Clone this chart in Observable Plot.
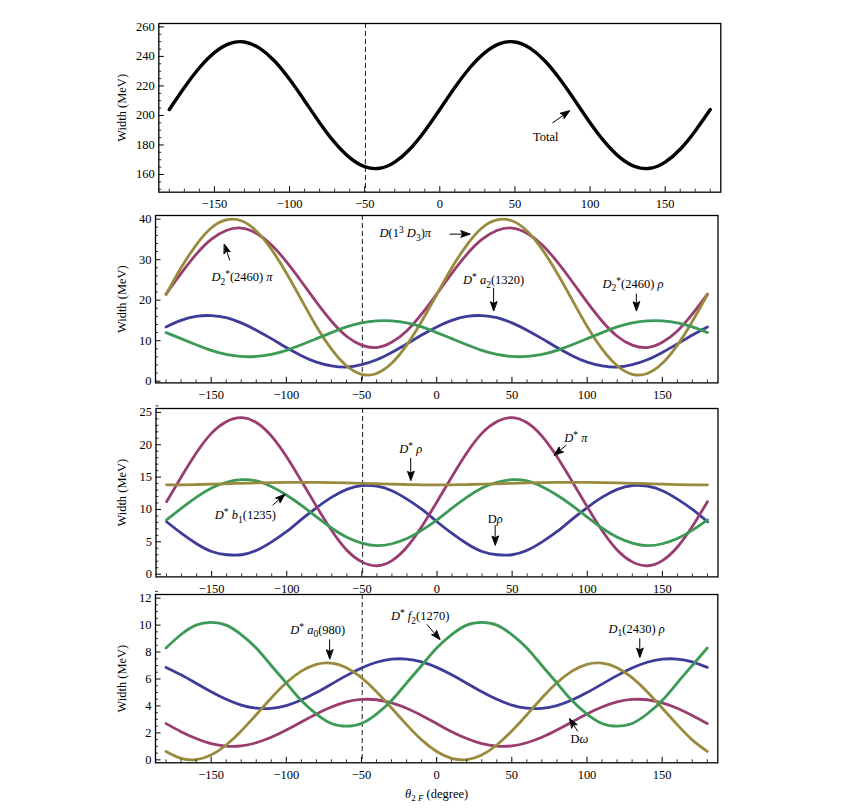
<!DOCTYPE html>
<html>
<head>
<meta charset="utf-8">
<script src="https://cdn.jsdelivr.net/npm/d3@7"></script>
<script src="https://cdn.jsdelivr.net/npm/@observablehq/plot@0.6"></script>
<style>
html, body { margin: 0; padding: 0; background: #fff; }
#chart { position: relative; width: 857px; height: 811px; overflow: hidden; }
#chart svg { position: absolute; left: 0; }
</style>
</head>
<body>
<div id="chart"></div>
<script>
// ---------- data ----------
const theta = [-180,-170,-160,-150,-140,-130,-120,-110,-100,-90,-80,-70,-60,-50,-40,-30,-20,-10,0,
  10,20,30,40,50,60,70,80,90,100,110,120,130,140,150,160,170,180];

const dashTheta = [-49.5];

// Panel 1
const totalWidth = [204.0,218.9,232.3,242.6,248.7,249.8,245.6,236.9,224.5,210.0,195.1,181.7,171.4,165.3,164.2,168.4,177.1,189.5,204.0,
  218.9,232.3,242.6,248.7,249.8,245.6,236.9,224.5,210.0,195.1,181.7,171.4,165.3,164.2,168.4,177.1,189.5,204.0];

// Panel 2
const p2D13D3pi = [21.4,28.0,33.6,37.8,39.8,39.6,37.1,32.6,26.7,20.1,13.5,7.9,3.8,1.7,1.9,4.4,8.9,14.8,21.4,
  28.0,33.6,37.8,39.8,39.6,37.1,32.6,26.7,20.1,13.5,7.9,3.8,1.7,1.9,4.4,8.9,14.8,21.4];
const p2D2pi = [21.5,26.6,31.3,35.0,37.2,37.8,36.5,33.7,29.5,24.6,19.5,14.8,11.1,8.9,8.3,9.6,12.4,16.6,21.5,
  26.6,31.3,35.0,37.2,37.8,36.5,33.7,29.5,24.6,19.5,14.8,11.1,8.9,8.3,9.6,12.4,16.6,21.5];
const p2Da2 = [13.4,15.0,16.0,16.2,15.7,14.4,12.6,10.5,8.3,6.3,4.7,3.8,3.5,4.1,5.3,7.1,9.2,11.4,13.4,
  15.0,16.0,16.2,15.7,14.4,12.6,10.5,8.3,6.3,4.7,3.8,3.5,4.1,5.3,7.1,9.2,11.4,13.4];
const p2D2rho = [12.0,10.5,9.0,7.6,6.6,6.1,6.1,6.6,7.6,9.0,10.5,12.0,13.4,14.4,14.9,14.9,14.4,13.4,12.0,
  10.5,9.0,7.6,6.6,6.1,6.1,6.6,7.6,9.0,10.5,12.0,13.4,14.4,14.9,14.9,14.4,13.4,12.0];

// Panel 3
const p3Dstarpi = [11.2,15.1,18.8,21.8,23.6,24.2,23.4,21.3,18.1,14.3,10.4,6.7,3.7,1.9,1.3,2.1,4.2,7.4,11.2,
  15.1,18.8,21.8,23.6,24.2,23.4,21.3,18.1,14.3,10.4,6.7,3.7,1.9,1.3,2.1,4.2,7.4,11.2];
const p3Drho = [8.1,6.3,4.7,3.5,3.0,3.0,3.7,5.0,6.6,8.5,10.3,11.9,13.1,13.7,13.6,12.9,11.6,10.0,8.1,
  6.3,4.7,3.5,3.0,3.0,3.7,5.0,6.6,8.5,10.3,11.9,13.1,13.7,13.6,12.9,11.6,10.0,8.1];
const p3Dstarrho = [13.8,13.81,13.85,13.9,13.97,14.04,14.1,14.15,14.19,14.2,14.19,14.15,14.1,14.04,13.97,13.9,13.85,13.81,13.8,
  13.81,13.85,13.9,13.97,14.04,14.1,14.15,14.19,14.2,14.19,14.15,14.1,14.04,13.97,13.9,13.85,13.81,13.8];
const p3Db1 = [8.4,10.2,11.9,13.3,14.2,14.6,14.4,13.5,12.2,10.6,8.8,7.1,5.7,4.8,4.4,4.7,5.5,6.8,8.4,
  10.2,11.9,13.3,14.2,14.6,14.4,13.5,12.2,10.6,8.8,7.1,5.7,4.8,4.4,4.7,5.5,6.8,8.4];

// Panel 4
const p4D1rho = [6.86,6.31,5.68,5.05,4.49,4.06,3.83,3.82,4.03,4.44,4.99,5.62,6.25,6.81,7.24,7.47,7.48,7.27,6.86,
  6.31,5.68,5.05,4.49,4.06,3.83,3.82,4.03,4.44,4.99,5.62,6.25,6.81,7.24,7.47,7.48,7.27,6.86];
const p4Domega = [2.69,2.09,1.58,1.20,1.02,1.04,1.27,1.67,2.21,2.81,3.41,3.92,4.30,4.48,4.46,4.23,3.83,3.29,2.69,
  2.09,1.58,1.20,1.02,1.04,1.27,1.67,2.21,2.81,3.41,3.92,4.30,4.48,4.46,4.23,3.83,3.29,2.69];
const p4Da0 = [0.62,0.11,0.02,0.36,1.10,2.14,3.35,4.59,5.72,6.58,7.09,7.18,6.84,6.10,5.06,3.85,2.61,1.48,0.62,
  0.11,0.02,0.36,1.10,2.14,3.35,4.59,5.72,6.58,7.09,7.18,6.84,6.10,5.06,3.85,2.61,1.48,0.62];
const p4Df2 = [8.3,9.3,10.0,10.2,10.0,9.3,8.3,7.0,5.7,4.4,3.4,2.7,2.5,2.7,3.4,4.4,5.7,7.0,8.3,
  9.3,10.0,10.2,10.0,9.3,8.3,7.0,5.7,4.4,3.4,2.7,2.5,2.7,3.4,4.4,5.7,7.0,8.3];

// ticks
const xMajorTicks = [-150,-100,-50,0,50,100,150];
const xMinorTicks = [-180,-170,-160,-140,-130,-120,-110,-90,-80,-70,-60,-40,-30,-20,-10,10,20,30,40,60,70,80,90,110,120,130,140,160,170,180];
const p1YTicks = [160,180,200,220,240,260];
const p2YTicks = [0,10,20,30,40];
const p3YTicks = [0,5,10,15,20,25];
const p4YTicks = [0,2,4,6,8,10,12];
const yTitle = "Width (MeV)";
const xTitle = "θ2F (degree)";

// annotations (data coordinates)
const p1Labels = ["Total"];
const p1LabelX = [70.5];
const p1LabelY = [185.3];
const p1ArrowX1 = [75.1], p1ArrowY1 = [195.0], p1ArrowX2 = [86.4], p1ArrowY2 = [203.1];

const p2Labels = ["D₂*(2460) π", "D(1³ D₃)π", "D* a₂(1320)", "D₂*(2460) ρ"];
const p2LabelX = [-129.5, -20.9, 37.8, 130.5];
const p2LabelY = [25.6, 36.5, 24.9, 24.1];
const p2ArrowX1 = [-137.7, 8.8, 37.8, 132.7], p2ArrowY1 = [29.9, 36.3, 22.9, 21.5];
const p2ArrowX2 = [-141.2, 22.0, 37.8, 132.7], p2ArrowY2 = [33.8, 36.3, 17.4, 17.4];

const p3Labels = ["D* ρ", "D* π", "D* b₁(1235)", "Dρ"];
const p3LabelX = [-17.5, 92.4, -127.5, 38.7];
const p3LabelY = [19.4, 21.0, 9.1, 8.6];
const p3ArrowX1 = [-17.5, 85.9, -109.2, 38.7], p3ArrowY1 = [17.9, 19.9, 10.7, 7.5];
const p3ArrowX2 = [-17.5, 78.0, -101.3, 38.7], p3ArrowY2 = [14.5, 18.4, 12.3, 4.5];

const p4Labels = ["D* a₀(980)", "D* f₂(1270)", "D₁(2430) ρ", "Dω"];
const p4LabelX = [-79.1, -11.0, 133.0, 95.0];
const p4LabelY = [9.65, 10.64, 9.73, 1.51];
const p4ArrowX1 = [-71.2, -6.3, 135.1, 93.7], p4ArrowY1 = [8.91, 10.03, 8.99, 2.13];
const p4ArrowX2 = [-71.2, 2.1, 135.1, 88.5], p4ArrowY2 = [7.50, 8.93, 7.62, 3.05];

// ---------- styling / layout ----------
const BLUE = "#3d3d99", PURPLE = "#993d71", OLIVE = "#998b3d", GREEN = "#3d9956";
const fmt = d => d < 0 ? "\u2212" + Math.abs(d) : String(d);
const chart = document.getElementById("chart");
const NS = "http://www.w3.org/2000/svg";

function minorRange(lo, hi, step, majors) {
  return d3.range(lo, hi + step / 2, step).map(v => +v.toFixed(3)).filter(v => !majors.some(m => Math.abs(m - v) < 1e-6));
}

function richify(el) {
  const s = el.textContent;
  const upright = s === "Total";
  const chars = Array.from(s);
  const runs = [];
  const subs = "₀₁₂₃₄₅₆₇₈₉";
  for (let i = 0; i < chars.length; i++) {
    const c = chars[i];
    let type = "n", ch = c;
    if (subs.includes(c)) { type = "sub"; ch = String(subs.indexOf(c)); }
    else if (c === "³") { type = "sup"; ch = "3"; }
    else if (c === "*") { type = "sup"; }
    else if (!upright && /[A-Za-zπρωθ]/.test(c)) {
      type = "i";
      if (c === "D" && /[ρω]/.test(chars[i + 1] || "")) type = "n";
    }
    if (runs.length && runs[runs.length - 1].type === type) runs[runs.length - 1].text += ch;
    else runs.push({type, text: ch});
  }
  el.textContent = "";
  let shift = 0;
  for (const r of runs) {
    const t = document.createElementNS(NS, "tspan");
    const target = r.type === "sub" ? 3.5 : r.type === "sup" ? -4 : 0;
    if (target !== shift) t.setAttribute("dy", target - shift);
    shift = target;
    if (r.type === "i") t.setAttribute("font-style", "italic");
    if (r.type === "sub" || r.type === "sup") t.setAttribute("font-size", "9.5");
    t.textContent = r.text;
    el.appendChild(t);
  }
}

// Turn Plot's arrow paths into Mathematica-style arrows with a solid head
function solidHeads(svg) {
  svg.querySelectorAll('g[aria-label="arrow"] path').forEach(p => {
    const nums = (p.getAttribute("d") || "").match(/-?\d*\.?\d+(?:e-?\d+)?/g);
    if (!nums || nums.length < 4) return;
    const [x1, y1, x2, y2] = nums.slice(0, 4).map(Number);
    const dx = x2 - x1, dy = y2 - y1, len = Math.hypot(dx, dy) || 1;
    const ux = dx / len, uy = dy / len;
    const hl = 9, hw = 3.2;
    const bx = x2 - ux * hl, by = y2 - uy * hl;
    const nx = -uy, ny = ux;
    const notchX = x2 - ux * hl * 0.8, notchY = y2 - uy * hl * 0.8;
    const d = `M${x1},${y1}L${notchX},${notchY}` +
      `M${x2},${y2}L${bx + nx * hw},${by + ny * hw}L${notchX},${notchY}L${bx - nx * hw},${by - ny * hw}Z`;
    p.setAttribute("d", d);
    p.setAttribute("fill", "black");
    p.setAttribute("stroke-linejoin", "miter");
  });
}

function makePanel(cfg) {
  const mt = 4;
  const innerH = cfg.B - cfg.T, innerW = cfg.R - cfg.L;
  const yMinor = minorRange(cfg.minorLo, cfg.yDomain[1], cfg.minorStep, cfg.yTicks);
  const ann = cfg.labels.map((t, i) => ({t, x: cfg.lx[i], y: cfg.ly[i]}));
  const arr = cfg.ax1.map((_, i) => ({x1: cfg.ax1[i], y1: cfg.ay1[i], x2: cfg.ax2[i], y2: cfg.ay2[i]}));
  const marks = [
    Plot.ruleX(dashTheta, {x: d => d, stroke: "black", strokeWidth: 0.9, strokeDasharray: "5,3"}),
    ...cfg.series.map(s => Plot.line(theta, {x: d => d, y: (d, i) => s.values[i], stroke: s.color, strokeWidth: s.width || 2.8, curve: "natural"})),
    Plot.frame({stroke: "black", strokeWidth: 1.3}),
    Plot.tickX(xMajorTicks, {x: d => d, insetTop: innerH - 5.5, stroke: "black", strokeWidth: 1}),
    Plot.tickX(xMinorTicks, {x: d => d, insetTop: innerH - 3, stroke: "black", strokeWidth: 0.8}),
    Plot.tickY(cfg.yTicks, {y: d => d, insetRight: innerW - 5.5, stroke: "black", strokeWidth: 1}),
    Plot.tickY(yMinor, {y: d => d, insetRight: innerW - 3, stroke: "black", strokeWidth: 0.8}),
    Plot.axisX({ticks: xMajorTicks, tickSize: 0, tickPadding: 7, tickFormat: fmt, label: null}),
    Plot.axisY({ticks: cfg.yTicks, tickSize: 0, tickPadding: 4, tickFormat: fmt, label: null}),
    Plot.text([yTitle], {text: d => d, frameAnchor: "left", rotate: -90, dx: 121 - cfg.L, textAnchor: "middle", fontSize: 12.5}),
    Plot.arrow(arr, {x1: "x1", y1: "y1", x2: "x2", y2: "y2", stroke: "black", strokeWidth: 1, headLength: 13, headAngle: 36}),
    Plot.text(ann, {x: "x", y: "y", text: "t", fontSize: 12.5, className: "ann", ariaLabel: "annotation"})
  ];
  if (cfg.xTitle) {
    marks.push(Plot.text([xTitle], {text: d => d, frameAnchor: "bottom", dy: 35, textAnchor: "middle", fontSize: 12.5, className: "xtitle", ariaLabel: "x-title"}));
  }
  const svg = Plot.plot({
    width: 857,
    height: innerH + mt + cfg.mb,
    marginLeft: cfg.L, marginRight: 857 - cfg.R, marginTop: mt, marginBottom: cfg.mb,
    x: {domain: [-187, 187]},
    y: {domain: cfg.yDomain},
    style: {fontFamily: "'Liberation Serif', 'Times New Roman', serif", fontSize: "12.5px", color: "black", background: "none", overflow: "visible"},
    marks
  });
  svg.style.top = (cfg.T - mt) + "px";
  svg.querySelectorAll('g.ann text, g[aria-label="annotation"] text').forEach(el => { if (!el.dataset.done) { el.dataset.done = 1; richify(el); } });
  svg.querySelectorAll('g.xtitle text, g[aria-label="x-title"] text').forEach(el => {
    if (el.dataset.done) return; el.dataset.done = 1;
    el.textContent = "";
    const parts = [["θ", {"font-style": "italic"}], ["2", {"font-size": "9", dy: 3.5}], [" F", {"font-size": "9", "font-style": "italic"}], [" (degree)", {dy: -3.5}]];
    for (const [txt, at] of parts) {
      const t = document.createElementNS(NS, "tspan");
      for (const k in at) t.setAttribute(k, at[k]);
      t.textContent = txt;
      el.appendChild(t);
    }
  });
  solidHeads(svg);
  chart.appendChild(svg);
}

makePanel({L: 158.3, R: 720.3, T: 23.3, B: 192, mb: 24, yDomain: [148, 262.3], yTicks: p1YTicks, minorLo: 150, minorStep: 5,
  series: [{values: totalWidth, color: "black", width: 3.4}],
  labels: p1Labels, lx: p1LabelX, ly: p1LabelY, ax1: p1ArrowX1, ay1: p1ArrowY1, ax2: p1ArrowX2, ay2: p1ArrowY2});

makePanel({L: 155, R: 717.5, T: 215.3, B: 382.7, mb: 24, yDomain: [-0.42, 40.9], yTicks: p2YTicks, minorLo: 0, minorStep: 2,
  series: [{values: p2Da2, color: BLUE}, {values: p2D2pi, color: PURPLE}, {values: p2D13D3pi, color: OLIVE}, {values: p2D2rho, color: GREEN}],
  labels: p2Labels, lx: p2LabelX, ly: p2LabelY, ax1: p2ArrowX1, ay1: p2ArrowY1, ax2: p2ArrowX2, ay2: p2ArrowY2});

makePanel({L: 155.5, R: 717.5, T: 408.3, B: 576.7, mb: 24, yDomain: [-0.42, 25.6], yTicks: p3YTicks, minorLo: 0, minorStep: 1,
  series: [{values: p3Drho, color: BLUE}, {values: p3Dstarpi, color: PURPLE}, {values: p3Db1, color: GREEN}, {values: p3Dstarrho, color: OLIVE}],
  labels: p3Labels, lx: p3LabelX, ly: p3LabelY, ax1: p3ArrowX1, ay1: p3ArrowY1, ax2: p3ArrowX2, ay2: p3ArrowY2});

makePanel({L: 155, R: 717.3, T: 594, B: 762.3, mb: 45, yDomain: [-0.22, 12.27], yTicks: p4YTicks, minorLo: 0, minorStep: 0.5,
  series: [{values: p4D1rho, color: BLUE}, {values: p4Domega, color: PURPLE}, {values: p4Da0, color: OLIVE}, {values: p4Df2, color: GREEN}],
  labels: p4Labels, lx: p4LabelX, ly: p4LabelY, ax1: p4ArrowX1, ay1: p4ArrowY1, ax2: p4ArrowX2, ay2: p4ArrowY2, xTitle: true});
</script>
</body>
</html>
